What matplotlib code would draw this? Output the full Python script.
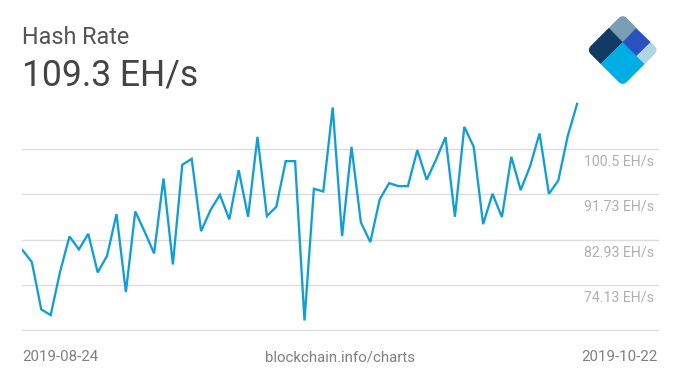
import pandas as pd
import matplotlib
matplotlib.use("Agg")
import matplotlib.pyplot as plt
from matplotlib.patches import FancyBboxPatch, Polygon
from matplotlib.transforms import Affine2D

plt.rcParams["font.family"] = ["Roboto", "DejaVu Sans"]

# values, one per day
hash_rate = [
    80.9, 78.57, 69.38, 68.28, 76.69, 83.55, 81.03, 84.07, 76.56, 79.8,
    87.88, 72.74, 88.4, 84.45, 80.25, 94.81, 78.11, 97.46, 98.62, 84.58,
    88.66, 91.64, 86.85, 96.42, 87.37, 102.89, 87.5, 89.31, 98.17, 98.17,
    67.24, 92.8, 92.28, 108.59, 83.61, 100.95, 86.27, 82.45, 90.73, 93.9,
    93.32, 93.32, 100.31, 94.55, 98.49, 102.83, 87.37, 104.83, 100.95, 85.94,
    91.83, 87.3, 99.01, 92.54, 97.2, 103.54, 91.83, 94.42, 103.02, 109.3,
]
dates = pd.date_range("2019-08-24", "2019-10-22")
grid_values = [65.33, 74.13, 82.93, 91.73, 100.53]
tick_labels = ["74.13 EH/s", "82.93 EH/s", "91.73 EH/s", "100.5 EH/s"]
tick_values = [74.13, 82.93, 91.73, 100.53]

# logo pieces in pixels: colour, corners
logo_pieces = [
    ("#7a9fb5", [(622.7, 8), (636, 28.3), (622.7, 42.3), (609, 28.3)]),
    ("#123a63", [(609, 28.3), (622.7, 42.3), (600.7, 64), (580, 50), (600, 20)]),
    ("#00aee6", [(622.7, 42.3), (645, 64), (622.7, 95), (600.7, 64)]),
    ("#2a52be", [(636, 28.3), (650.7, 42.3), (636.7, 56), (622.7, 42.3)]),
    ("#b1d4e5", [(650.7, 42.3), (665, 50), (645, 64), (636.7, 56)]),
]

W, H = 680, 383
fig = plt.figure(figsize=(W / 100, H / 100), dpi=100, facecolor="white")

# plot area placed so the grid lines land on the same pixels
top_px, bottom_px = 90, 330.3
ax = fig.add_axes([22 / W, 1 - bottom_px / H, (657.5 - 22) / W, (bottom_px - top_px) / H])
ax.set_facecolor("none")
ax.plot(dates, hash_rate, color="#0f9ed8", lw=1.65, solid_joinstyle="miter", zorder=3)
ax.set_ylim(65.33, 65.33 + (bottom_px - top_px) * 8.8 / 45.33)
ax.set_xlim(dates[0] - pd.Timedelta(days=0.05), dates[0] + pd.Timedelta(days=67.55))
for v in grid_values:
    ax.axhline(v, color="#dcdcdc", lw=1.0, zorder=1, clip_on=False)
for v, label in zip(tick_values, tick_labels):
    ax.annotate(label, xy=(1, v), xycoords=("axes fraction", "data"),
                xytext=(-3.5, -12.5), textcoords="offset pixels", ha="right", va="center",
                fontsize=10.2, color="#b0b0b0")
for spine in ax.spines.values():
    spine.set_visible(False)
ax.set_xticks([])
ax.set_yticks([])

# overlay in pixel coordinates for header, footer and logo
over = fig.add_axes([0, 0, 1, 1])
over.set_xlim(0, W)
over.set_ylim(H, 0)
over.axis("off")
over.patch.set_alpha(0)

over.text(22, 44, "Hash Rate", fontsize=16.8, color="#555555", va="baseline", ha="left")
over.text(22, 85, "109.3 EH/s", fontsize=25.6, color="#444444", va="baseline", ha="left")
over.text(22, 361, "2019-08-24", fontsize=10.8, color="#808080", va="baseline", ha="left")
over.text(340, 361, "blockchain.info/charts", fontsize=10.8, color="#808080", va="baseline", ha="center")
over.text(657, 361, "2019-10-22", fontsize=10.8, color="#808080", va="baseline", ha="right")

cx, cy, side = 622.7, 50, 51
clip = FancyBboxPatch((cx - side / 2, cy - side / 2), side, side,
                      boxstyle="round,pad=0,rounding_size=6",
                      transform=Affine2D().rotate_deg_around(cx, cy, 45) + over.transData,
                      facecolor="none", edgecolor="none")
over.add_patch(clip)
for colour, corners in logo_pieces:
    piece = Polygon(corners, closed=True, facecolor=colour, edgecolor=colour, lw=0.3)
    over.add_patch(piece)
    piece.set_clip_path(clip)

fig.savefig("out.png", dpi=100)
